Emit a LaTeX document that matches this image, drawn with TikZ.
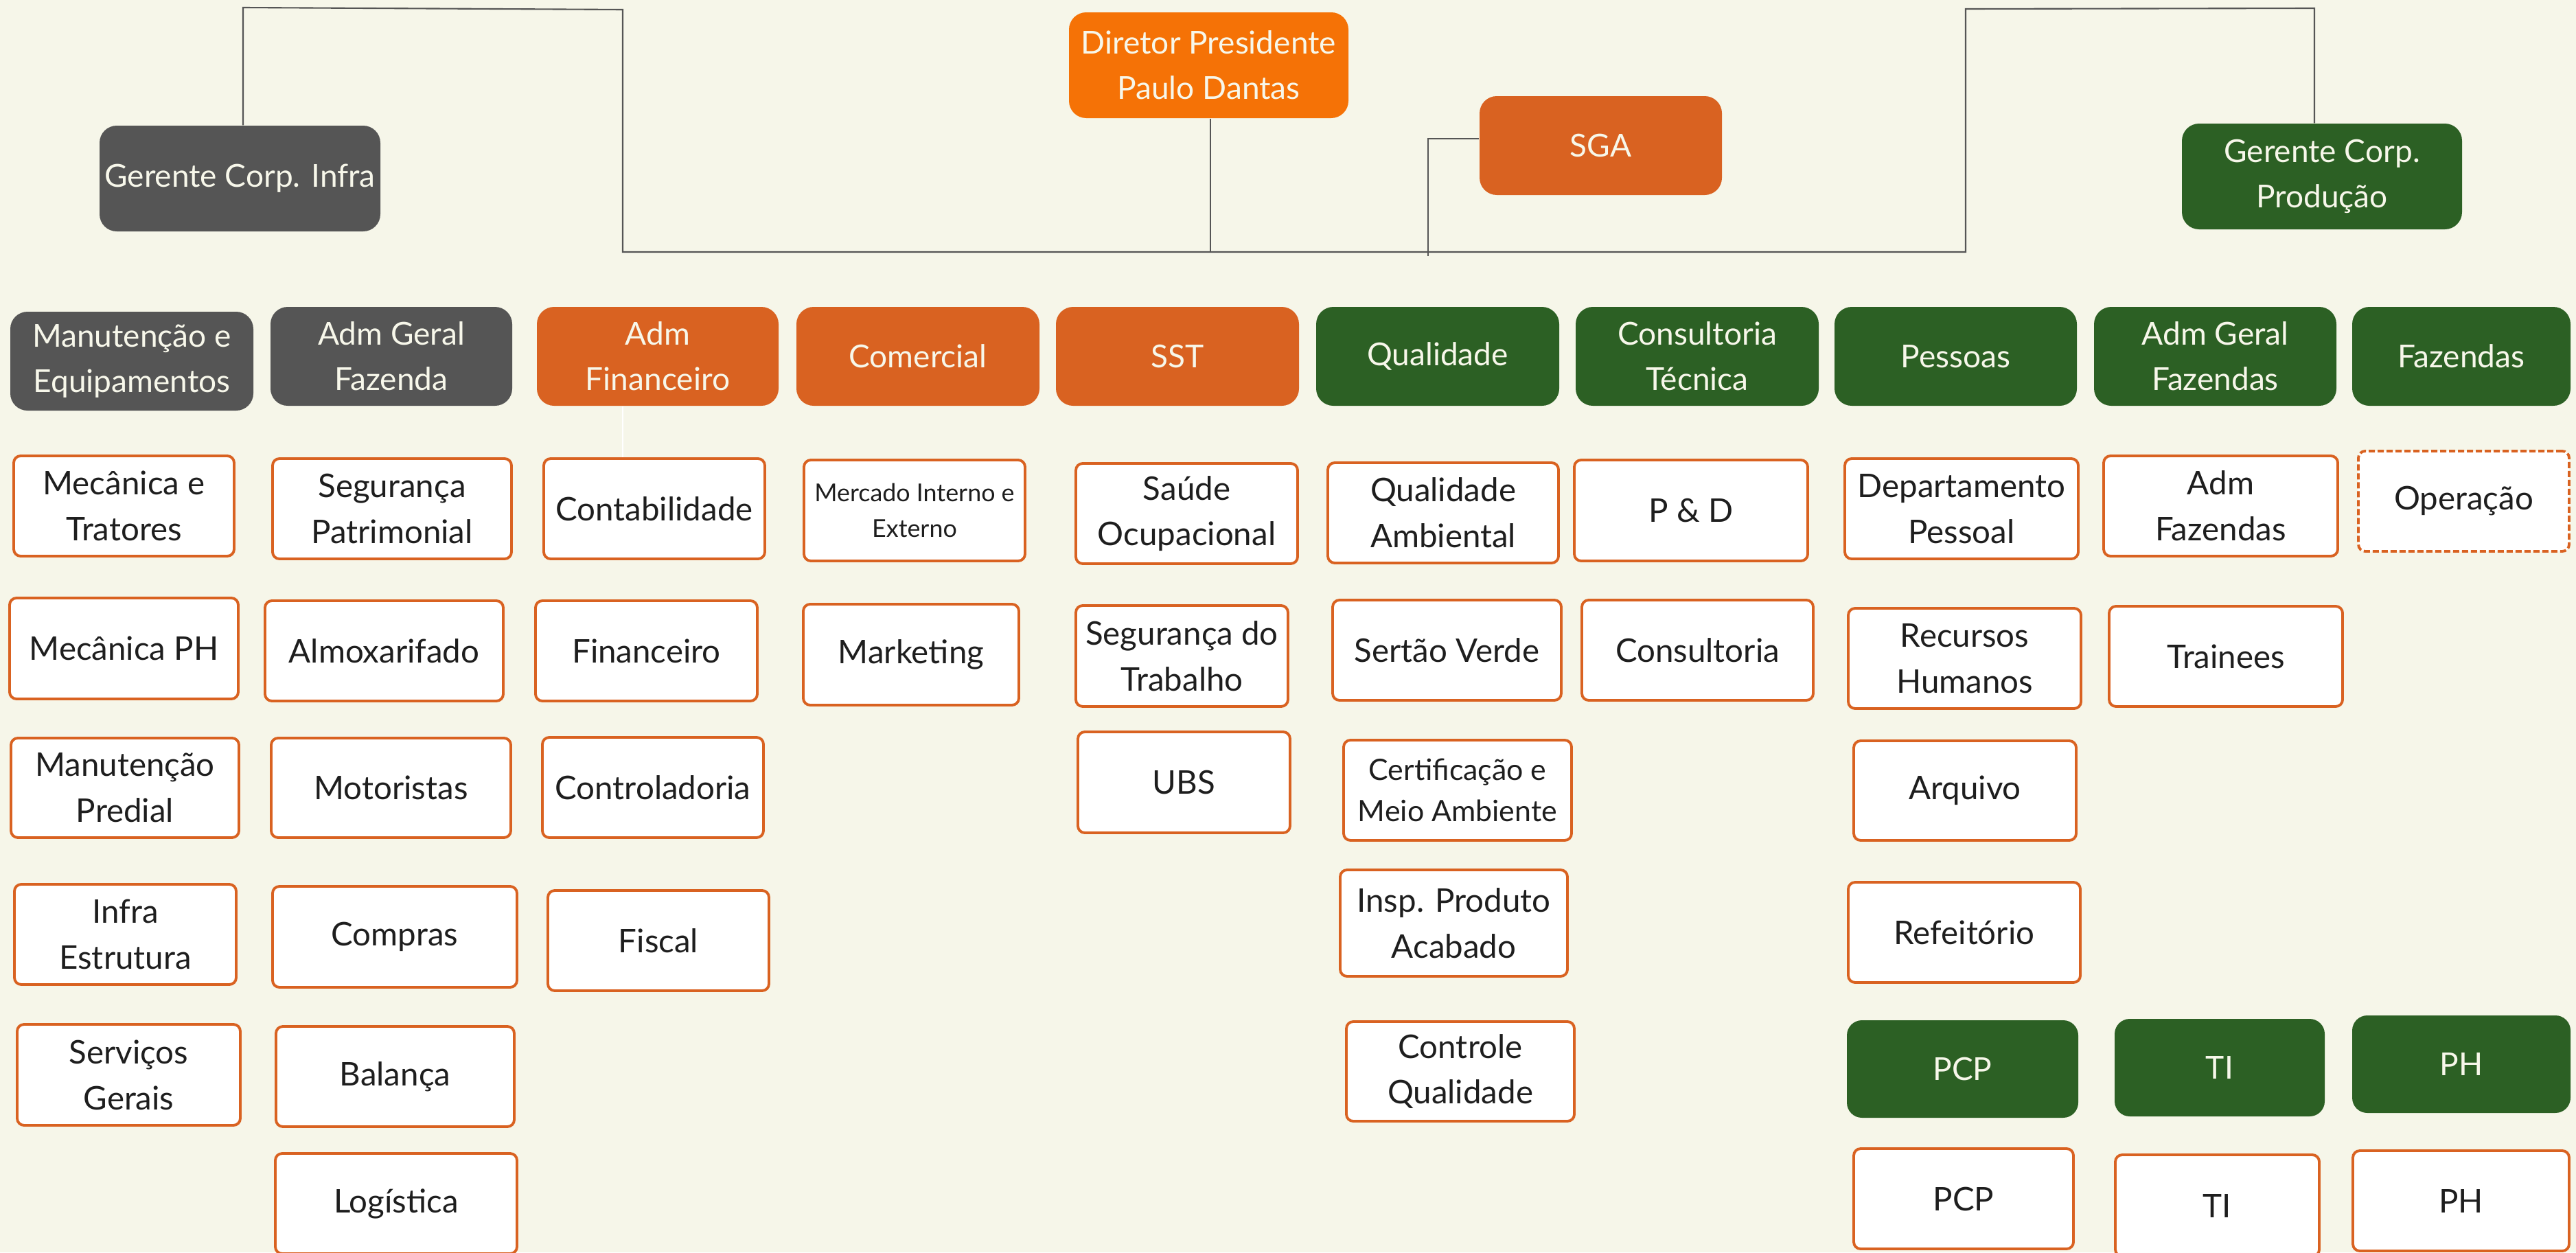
\documentclass[tikz,border=0pt]{standalone}
\usepackage{fontspec}
\setmainfont{Lato}
\definecolor{achter}{HTML}{F6F6E9}
\definecolor{grijs}{HTML}{555555}
\definecolor{fel}{HTML}{F57206}
\definecolor{oranje}{HTML}{D96221}
\definecolor{groen}{HTML}{2C6024}
\definecolor{licht}{HTML}{F7F7EA}
\definecolor{inkt}{HTML}{1E1E1E}
\definecolor{lijn}{HTML}{555555}
\tikzstyle{dept}=[rectangle,
                  rounded corners=0.25cm,
                  text=licht,
                  align=center,
                  inner sep=0pt,
                  minimum width=3.54cm,
                  minimum height=1.44cm,
                  font=\fontsize{13.1pt}{18.8pt}\selectfont
                 ]
\tikzstyle{unit}=[rectangle,
                  draw=oranje,
                  line width=1.1pt,
                  fill=white,
                  rounded corners=0.1cm,
                  text=inkt,
                  align=center,
                  inner sep=0pt,
                  minimum height=1.46cm,
                  font=\fontsize{13.5pt}{19pt}\selectfont
                 ]
\tikzstyle{conn}=[draw=lijn, line width=0.6pt]
\tikzstyle{faint}=[draw=white, line width=0.5pt]

\begin{document}
\begin{tikzpicture}
  \fill[achter] (0,0) rectangle (37.52cm,-18.24cm);
  \useasboundingbox (0,0) rectangle (37.52cm,-18.24cm);

  \node at (3.495cm, -2.60cm) (infra) [dept, fill=grijs, minimum width=4.09cm, minimum height=1.54cm] {Gerente Corp. Infra};
  \node at (17.605cm, -0.95cm) (dir) [dept, fill=fel, minimum width=4.07cm, minimum height=1.54cm] {Diretor Presidente\\Paulo Dantas};
  \node at (23.315cm, -2.12cm) (sga) [dept, fill=oranje, minimum width=3.53cm] {SGA};
  \node at (33.82cm, -2.57cm) (prod) [dept, fill=groen, minimum width=4.08cm, minimum height=1.54cm] {Gerente Corp.\\Produção};

  \coordinate (tl) at (3.54cm, -0.11cm);
  \coordinate (tr) at (9.07cm, -0.14cm);
  \coordinate (bl) at (9.07cm, -3.67cm);
  \coordinate (br) at (28.63cm, -3.67cm);
  \coordinate (rt) at (28.63cm, -0.13cm);
  \coordinate (rr) at (33.71cm, -0.12cm);
  \coordinate (sgafoot) at (20.80cm, -3.73cm);

  \draw[conn] (tl |- infra.north) -- (tl) -- (tr) -- (bl) -- (br) -- (rt) -- (rr) -- (rr |- prod.north);
  \draw[conn] ([xshift=0.025cm]dir.south) -- ([xshift=0.025cm]dir.south |- bl);
  \draw[conn] ([yshift=0.1cm]sga.west) -| (sgafoot);

  % afdelingen
  \node at (1.92cm, -5.26cm) (manut) [dept, fill=grijs] {Manutenção e\\Equipamentos};
  \node at (5.70cm, -5.19cm) (admgf) [dept, fill=grijs, minimum width=3.52cm] {Adm Geral\\Fazenda};
  \node at (9.58cm, -5.19cm) (admfin) [dept, fill=oranje, minimum width=3.52cm] {Adm\\Financeiro};
  \node at (13.37cm, -5.19cm) (comerc) [dept, fill=oranje] {Comercial};
  \node at (17.15cm, -5.19cm) (sst) [dept, fill=oranje] {SST};
  \node at (20.94cm, -5.19cm) (qual) [dept, fill=groen] {Qualidade};
  \node at (24.72cm, -5.19cm) (consult) [dept, fill=groen] {Consultoria\\Técnica};
  \node at (28.485cm, -5.19cm) (pess) [dept, fill=groen, minimum width=3.53cm] {Pessoas};
  \node at (32.265cm, -5.19cm) (admgfz) [dept, fill=groen, minimum width=3.53cm] {Adm Geral\\Fazendas};
  \node at (35.85cm, -5.19cm) (faz) [dept, fill=groen, minimum width=3.18cm] {Fazendas};

  \draw[faint] (admfin.south -| tr) -- (tr |- 0,-6.68cm);

  \node at (1.805cm, -7.37cm) (mectrat) [unit, minimum width=3.21cm] {Mecânica e\\Tratores};
  \node at (1.805cm, -9.445cm) (mecph) [unit, minimum width=3.33cm, minimum height=1.47cm] {Mecânica PH};
  \node at (1.82cm, -11.475cm) (manpred) [unit, minimum width=3.32cm, minimum height=1.45cm] {Manutenção\\Predial};
  \node at (1.825cm, -13.61cm) (infraest) [unit, minimum width=3.23cm] {Infra\\Estrutura};
  \node at (1.875cm, -15.655cm) (servger) [unit, minimum width=3.25cm, minimum height=1.47cm] {Serviços\\Gerais};

  \node at (5.71cm, -7.41cm) (segpat) [unit, minimum width=3.48cm] {Segurança\\Patrimonial};
  \node at (5.595cm, -9.48cm) (almox) [unit, minimum width=3.47cm] {Almoxarifado};
  \node at (5.695cm, -11.475cm) (motor) [unit, minimum width=3.49cm, minimum height=1.45cm] {Motoristas};
  \node at (5.75cm, -13.645cm) (compras) [unit, minimum width=3.56cm, minimum height=1.47cm] {Compras};
  \node at (5.755cm, -15.68cm) (balanca) [unit, minimum width=3.47cm] {Balança};
  \node at (5.77cm, -17.53cm) (logist) [unit, minimum width=3.52cm] {Logística};

  \node at (9.53cm, -7.41cm) (contab) [unit, minimum width=3.22cm] {Contabilidade};
  \node at (9.415cm, -9.48cm) (financ) [unit, minimum width=3.23cm] {Financeiro};
  \node at (9.51cm, -11.47cm) (control) [unit, minimum width=3.22cm] {Controladoria};
  \node at (9.59cm, -13.70cm) (fiscal) [unit, minimum width=3.22cm] {Fiscal};

  \node at (13.32cm, -7.435cm) (mercado) [unit, minimum width=3.22cm, minimum height=1.47cm, font=\fontsize{10.2pt}{15pt}\selectfont] {Mercado Interno e\\Externo};
  \node at (13.27cm, -9.535cm) (market) [unit, minimum width=3.14cm, minimum height=1.47cm] {Marketing};

  \node at (17.285cm, -7.48cm) (saude) [unit, minimum width=3.23cm] {Saúde\\Ocupacional};
  \node at (17.215cm, -9.555cm) (segtrab) [unit, minimum width=3.09cm, minimum height=1.47cm] {Segurança do\\Trabalho};
  \node at (17.245cm, -11.395cm) (ubs) [unit, minimum width=3.09cm, minimum height=1.47cm] {UBS};

  \node at (21.02cm, -7.47cm) (qualamb) [unit, minimum width=3.36cm] {Qualidade\\Ambiental};
  \node at (21.075cm, -9.47cm) (sertao) [unit, minimum width=3.33cm] {Sertão Verde};
  \node at (21.23cm, -11.51cm) (certif) [unit, minimum width=3.32cm, font=\fontsize{12.2pt}{17pt}\selectfont] {Certificação e\\Meio Ambiente};
  \node at (21.175cm, -13.445cm) (insp) [unit, minimum width=3.31cm, minimum height=1.55cm] {Insp. Produto\\Acabado};
  \node at (21.27cm, -15.605cm) (contrq) [unit, minimum width=3.32cm, minimum height=1.45cm] {Controle\\Qualidade};

  \node at (24.63cm, -7.435cm) (pd) [unit, minimum width=3.40cm, minimum height=1.47cm] {P \& D};
  \node at (24.725cm, -9.47cm) (consu) [unit, minimum width=3.37cm] {Consultoria};

  \node at (28.57cm, -7.41cm) (deppes) [unit, minimum width=3.40cm] {Departamento\\Pessoal};
  \node at (28.615cm, -9.59cm) (rh) [unit, minimum width=3.39cm] {Recursos\\Humanos};
  \node at (28.62cm, -11.515cm) (arquivo) [unit, minimum width=3.24cm, minimum height=1.45cm] {Arquivo};
  \node at (28.61cm, -13.58cm) (refeit) [unit, minimum width=3.38cm] {Refeitório};
  \node at (28.585cm, -15.57cm) (pcpg) [dept, fill=groen, minimum width=3.37cm, minimum height=1.42cm, rounded corners=0.22cm] {PCP};
  \node at (28.60cm, -17.46cm) (pcp) [unit, minimum width=3.20cm] {PCP};

  \node at (32.345cm, -7.37cm) (admfaz) [unit, minimum width=3.41cm] {Adm\\Fazendas};
  \node at (32.42cm, -9.56cm) (trainees) [unit, minimum width=3.40cm] {Trainees};
  \node at (32.33cm, -15.55cm) (tig) [dept, fill=groen, minimum width=3.06cm, minimum height=1.42cm, rounded corners=0.22cm] {TI};
  \node at (32.295cm, -17.56cm) (ti) [unit, minimum width=2.97cm, minimum height=1.48cm] {TI};

  \node at (35.885cm, -7.30cm) (oper) [unit, minimum width=3.07cm, dash pattern=on 0.09cm off 0.04cm] {Operação};
  \node at (35.85cm, -15.50cm) (phg) [dept, fill=groen, minimum width=3.18cm, minimum height=1.42cm, rounded corners=0.22cm] {PH};
  \node at (35.845cm, -17.49cm) (ph) [unit, minimum width=3.15cm] {PH};
\end{tikzpicture}
\end{document}
